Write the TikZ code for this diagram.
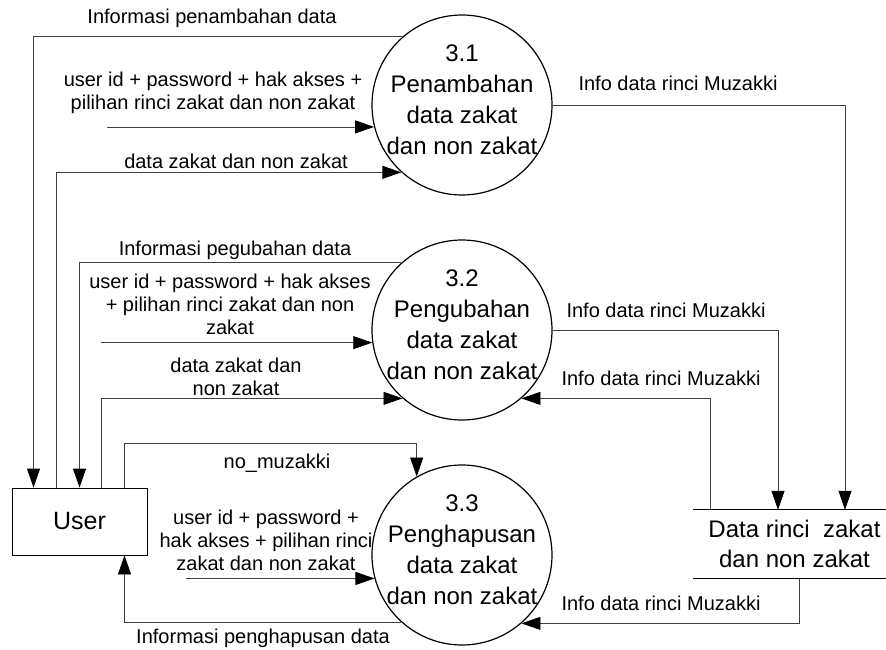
\documentclass[tikz,border=0pt]{standalone}
\usepackage{fontspec}
\setmainfont{Liberation Sans}
\usetikzlibrary{shapes,arrows.meta,positioning}

\begin{document}
\begin{tikzpicture}
  [
    x=1pt, y=-1pt,
    Proc/.style={circle, draw=black, line width=1.2pt, minimum size=180pt, inner sep=0pt},
    ProcText/.style={align=center, yshift=5pt, font=\fontsize{24}{31}\selectfont},
    Entity/.style={rectangle, draw=black, line width=0.8pt, minimum width=135pt, minimum height=67pt, font=\fontsize{25}{30}\selectfont},
    Store/.style={rectangle, minimum width=193pt, minimum height=68pt},
    StoreText/.style={align=center, xshift=5pt, font=\fontsize{24}{30}\selectfont},
    Lbl/.style={align=center, inner sep=0pt, font=\fontsize{20}{23}\selectfont},
    Flow/.style={draw=black!75, line width=0.8pt, -{Triangle[length=19pt, width=13pt, color=black]}}
  ]
  \useasboundingbox (0,0) rectangle (886,650);
  % Nodes
  \node[Proc, label={[ProcText]center:{3.1\\Penambahan\\data zakat\\dan non zakat}}] (p1) at (462,105) {};
  \node[Proc, label={[ProcText]center:{3.2\\Pengubahan\\data zakat\\dan non zakat}}] (p2) at (462,330) {};
  \node[Proc, label={[ProcText]center:{3.3\\Penghapusan\\data zakat\\dan non zakat}}] (p3) at (462,555) {};
  \node[Entity] (user) at (79.5,521.5) {User};
  \node[Store, label={[StoreText]center:{Data rinci\ \ zakat\\dan non zakat}}] (store) at (789.5,544) {};
  \coordinate (in1) at (107,127);
  \coordinate (in2) at (101,342);
  \coordinate (in3) at (186,578);
  \coordinate (nm) at (0,443);
  % Labels
  \node[Lbl] (l1) at (212,18) {Informasi penambahan data};
  \node[Lbl] (l2) at (213,93) {user id + password + hak akses +\\pilihan rinci zakat dan non zakat};
  \node[Lbl] (l3) at (236,161) {data zakat dan non zakat};
  \node[Lbl] (l4) at (235,250) {Informasi pegubahan data};
  \node[Lbl] (l5) at (230,304) {user id + password + hak akses\\+ pilihan rinci zakat dan non\\zakat};
  \node[Lbl] (l6) at (236,377) {data zakat dan\\non zakat};
  \node[Lbl] (l7) at (277,463) {no\_muzakki};
  \node[Lbl] (l8) at (266,540) {user id + password +\\hak akses + pilihan rinci\\zakat dan non zakat};
  \node[Lbl] (l9) at (263,638) {Informasi penghapusan data};
  \node[Lbl] (l10) at (678,83) {Info data rinci Muzakki};
  \node[Lbl] (l11) at (666,310) {Info data rinci Muzakki};
  \node[Lbl] (l12) at (661,378) {Info data rinci Muzakki};
  \node[Lbl] (l13) at (661,603) {Info data rinci Muzakki};
  % Lines
  \path [Flow] (p1.131) -| ([xshift=-46pt]user.north);
  \path [Flow] (in1 |- p1.194) -- (p1.194);
  \path [Flow] ([xshift=-23pt]user.north) |- (p1.228);
  \path [Flow] (p2.132) -| (user.north);
  \path [Flow] (in2 |- p2.188) -- (p2.188);
  \path [Flow] ([xshift=22pt]user.north) |- (p2.229);
  \path [Flow] ([xshift=45pt]user.north) |- (p3.120 |- nm) -- (p3.120);
  \path [Flow] (in3 |- p3.195) -- (p3.195);
  \path [Flow] (p3.228) -| ([xshift=45pt]user.south);
  \path [Flow] (p1.east) -| ([xshift=55.5pt]store.north);
  \path [Flow] (p2.east) -| ([xshift=-11.5pt]store.north);
  \path [Flow] ([xshift=-79.5pt]store.north) |- (p2.-49);
  \path [Flow] ([xshift=9.5pt]store.south) |- (p3.-49);
  \draw [line width=0.8pt] (store.north west) -- (store.north east);
  \draw [line width=0.8pt] (store.south west) -- (store.south east);
\end{tikzpicture}
\end{document}
